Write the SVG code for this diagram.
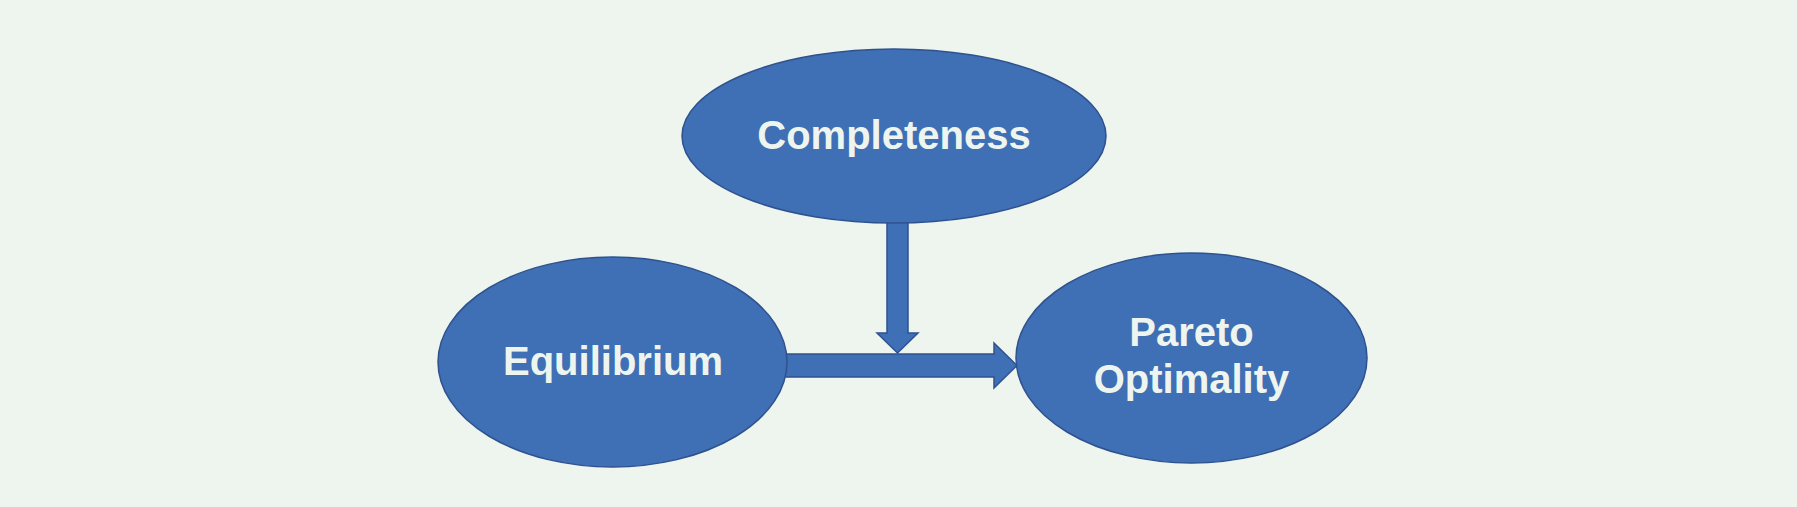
<svg xmlns="http://www.w3.org/2000/svg" width="1797" height="507" viewBox="0 0 1797 507">
  <style>
    .node { fill: #3F6FB4; stroke: #2F528F; stroke-width: 1.5; }
    .arrow { fill: #3F6FB4; stroke: #2F528F; stroke-width: 1.5; stroke-linejoin: miter; }
    .label { font-family: "Liberation Sans", Arial, sans-serif; font-weight: bold; font-size: 40px; fill: #EEF5EF; text-anchor: middle; }
  </style>
  <rect x="0" y="0" width="1797" height="507" fill="#EEF5EF"/>
  <g id="connectors">
    <polygon class="arrow" points="887,220 908,220 908,333 918,333 897.5,353 877,333 887,333"/>
    <polygon class="arrow" points="785,354 994,354 994,343 1017,365.5 994,388 994,377 785,377"/>
  </g>
  <g id="completeness">
    <ellipse class="node" cx="894" cy="136" rx="212" ry="87"/>
    <text class="label" x="894" y="149">Completeness</text>
  </g>
  <g id="equilibrium">
    <ellipse class="node" cx="612.5" cy="362" rx="174.5" ry="105"/>
    <text class="label" x="613" y="375">Equilibrium</text>
  </g>
  <g id="pareto">
    <ellipse class="node" cx="1191.5" cy="358" rx="175.5" ry="105"/>
    <text class="label" x="1191.5" y="346">Pareto</text>
    <text class="label" x="1191.5" y="393">Optimality</text>
  </g>
</svg>
